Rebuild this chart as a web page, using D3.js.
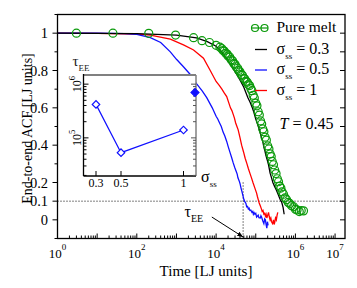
<!DOCTYPE html>
<html>
<head>
<meta charset="utf-8">
<script src="https://cdn.jsdelivr.net/npm/d3@7"></script>
<style>
body { margin: 0; background: #fff; }
svg { display: block; }
</style>
</head>
<body>
<div id="root"></div>
<script>
// pure melt (green circles)
var pureTime = [3, 25, 200, 950, 2700, 4400, 6800, 1.0e4, 1.25e4, 1.4e4,
  1.5e4, 1.6e4, 1.75e4, 1.9e4, 2.0e4, 2.2e4, 2.4e4, 2.6e4, 2.8e4, 3.0e4,
  3.2e4, 3.5e4, 3.7e4, 4.0e4, 4.3e4, 4.6e4, 5.0e4, 5.3e4, 5.7e4, 6.1e4,
  6.5e4, 7.0e4, 7.5e4, 8.0e4, 8.6e4, 9.2e4, 1.0e5, 1.07e5, 1.15e5, 1.23e5,
  1.32e5, 1.41e5, 1.5e5, 1.6e5, 1.72e5, 1.85e5, 2.0e5, 2.15e5, 2.3e5, 2.45e5,
  2.6e5, 2.8e5, 3.0e5, 3.25e5, 3.5e5, 3.75e5, 4.0e5, 4.3e5, 4.6e5, 5.0e5,
  5.5e5, 6.0e5, 6.6e5, 7.2e5, 8.0e5, 9.0e5, 1.0e6, 1.1e6, 1.25e6, 1.4e6, 1.6e6];
var pureAcf = [1.0, 1.0, 0.999, 0.99, 0.976, 0.96, 0.95, 0.935, 0.925, 0.917,
  0.907, 0.904, 0.892, 0.888, 0.878, 0.872, 0.858, 0.852, 0.838, 0.833,
  0.82, 0.812, 0.8, 0.793, 0.779, 0.774, 0.758, 0.755, 0.742, 0.737,
  0.725, 0.719, 0.704, 0.692, 0.667, 0.653, 0.625, 0.611, 0.579, 0.561,
  0.53, 0.514, 0.487, 0.472, 0.443, 0.427, 0.396, 0.38, 0.353, 0.339,
  0.313, 0.295, 0.267, 0.248, 0.22, 0.204, 0.181, 0.17, 0.15, 0.137,
  0.118, 0.108, 0.093, 0.088, 0.076, 0.07, 0.057, 0.053, 0.044, 0.05, 0.048];

// sigma_ss = 0.3 (black)
var s03Time = [1, 100, 1000, 3200, 6000, 1.0e4, 1.3e4, 1.6e4, 2.0e4, 2.5e4,
  3.2e4, 4.0e4, 5.0e4, 6.3e4, 7.2e4, 8.2e4, 9.0e4, 1.0e5, 1.1e5, 1.2e5,
  1.3e5, 1.4e5, 1.5e5, 1.6e5, 1.7e5, 1.8e5, 1.95e5, 2.1e5, 2.3e5, 2.5e5,
  2.7e5, 3.0e5, 3.3e5, 3.7e5, 4.1e5, 4.5e5, 4.9e5, 5.2e5];
var s03Acf = [1.0, 0.998, 0.99, 0.975, 0.955, 0.93, 0.905, 0.88, 0.85, 0.82,
  0.785, 0.75, 0.71, 0.655, 0.63, 0.6, 0.575, 0.54, 0.515, 0.49,
  0.465, 0.44, 0.42, 0.39, 0.37, 0.345, 0.32, 0.295, 0.25, 0.225,
  0.2, 0.178, 0.16, 0.134, 0.11, 0.095, 0.065, 0.03];

// sigma_ss = 0.5 (blue)
var s05Time = [1, 10, 50, 100, 220, 400, 700, 1000, 1500, 2200,
  3200, 4500, 5800, 8000, 1.0e4, 1.1e4, 1.25e4, 1.35e4, 1.5e4, 1.65e4,
  1.85e4, 2.0e4, 2.25e4, 2.45e4, 2.7e4, 2.95e4, 3.2e4, 3.4e4, 3.55e4, 3.8e4,
  4.0e4, 4.25e4, 4.5e4, 4.75e4, 5.0e4, 5.2e4, 5.4e4, 5.65e4, 5.9e4, 6.2e4,
  6.5e4, 6.8e4, 7.1e4, 7.5e4, 8.0e4, 8.4e4, 8.7e4, 9.1e4, 9.5e4, 1.0e5,
  1.05e5, 1.1e5, 1.15e5, 1.2e5, 1.3e5, 1.35e5, 1.4e5, 1.5e5, 1.6e5, 1.68e5,
  1.75e5, 1.82e5, 1.9e5, 1.97e5, 2.05e5];
var s05Acf = [1.0, 1.0, 0.998, 0.994, 0.976, 0.95, 0.9, 0.86, 0.82, 0.78,
  0.73, 0.69, 0.655, 0.6, 0.555, 0.54, 0.515, 0.5, 0.47, 0.45,
  0.42, 0.395, 0.36, 0.335, 0.305, 0.28, 0.26, 0.245, 0.225, 0.21,
  0.195, 0.17, 0.15, 0.13, 0.11, 0.1, 0.095, 0.088, 0.07, 0.072,
  0.058, 0.062, 0.05, 0.052, 0.04, 0.045, 0.03, 0.038, 0.03, 0.035,
  0.015, 0.02, 0.025, 0.012, 0.01, 0.022, 0.015, -0.005, -0.02, 0.005,
  0.0, -0.025, -0.045, -0.01, -0.03];

// sigma_ss = 1 (red)
var s1Time = [1, 10, 100, 220, 700, 1500, 2700, 4800, 7000, 1.0e4,
  1.2e4, 1.4e4, 1.6e4, 1.85e4, 2.1e4, 2.3e4, 2.5e4, 2.7e4, 2.9e4, 3.1e4,
  3.35e4, 3.6e4, 4.0e4, 4.4e4, 4.9e4, 5.4e4, 6.0e4, 6.5e4, 7.1e4, 7.8e4,
  8.5e4, 9.5e4, 1.05e5, 1.1e5, 1.15e5, 1.22e5, 1.3e5, 1.38e5, 1.45e5, 1.52e5,
  1.6e5, 1.68e5, 1.75e5, 1.82e5, 1.9e5, 2.0e5, 2.1e5, 2.2e5, 2.3e5, 2.4e5,
  2.5e5, 2.65e5, 2.8e5, 2.9e5, 3.0e5, 3.15e5, 3.3e5, 3.45e5, 3.6e5];
var s1Acf = [1.0, 0.999, 0.995, 0.99, 0.968, 0.937, 0.91, 0.866, 0.803, 0.741,
  0.72, 0.7, 0.68, 0.66, 0.625, 0.6, 0.585, 0.565, 0.545, 0.52,
  0.5, 0.482, 0.44, 0.4, 0.365, 0.33, 0.3, 0.275, 0.25, 0.225,
  0.2, 0.17, 0.143, 0.125, 0.11, 0.09, 0.075, 0.06, 0.045, 0.05,
  0.03, 0.035, 0.02, 0.03, 0.01, 0.025, 0.04, 0.015, 0.0, 0.01,
  -0.01, -0.02, 0.0, -0.025, -0.015, 0.01, 0.0, 0.025, 0.04];

// inset: relaxation time vs sigma_ss
var sigmaSS = [0.3, 0.5, 1];
var tauEE = [4.2e5, 5.3e4, 1.4e5];
var tauPure = 7.0e5;
var tauMark = 4.8e4;

var xLabelDecades = [0, 2, 4, 6, 7];
var yLabelValues = [0, 0.1, 0.2, 0.4, 0.6, 0.8, 1];

var w = 357, h = 288;
var plot = {left: 57.5, right: 345, top: 14.5, bottom: 238.5};
var ins = {left: 83.5, right: 196, top: 75, bottom: 176};

var svg = d3.select('#root')
  .append('svg')
    .attr('width', w)
    .attr('height', h)
    .style('font-family', "'Liberation Serif'")
    .style('background', '#fff');

var x = d3.scaleLog().domain([1, 1.78e7]).range([plot.left, plot.right]);
var y = d3.scaleLinear().domain([-0.1, 1.1]).range([plot.bottom, plot.top]);

function zip(ts, vs) {
  return ts.map(function (t, i) { return {t: t, v: vs[i]}; });
}

var line = d3.line()
  .x(function (d) { return x(d.t); })
  .y(function (d) { return y(d.v); });

// dotted guides
svg.append('line')
    .attr('x1', plot.left).attr('x2', plot.right)
    .attr('y1', y(0.1)).attr('y2', y(0.1))
    .attr('stroke', '#000').attr('stroke-width', 1)
    .attr('stroke-dasharray', '1,2');
svg.append('line')
    .attr('x1', x(tauMark)).attr('x2', x(tauMark))
    .attr('y1', y(0.2)).attr('y2', y(-0.1))
    .attr('stroke', '#000').attr('stroke-width', 1)
    .attr('stroke-dasharray', '1,2');

// curves
var series = [
  {t: s1Time, v: s1Acf, color: '#ff0000'},
  {t: s05Time, v: s05Acf, color: '#1010ff'},
  {t: s03Time, v: s03Acf, color: '#000000'}
];
series.forEach(function (s) {
  svg.append('path')
      .datum(zip(s.t, s.v))
      .attr('d', line)
      .attr('fill', 'none')
      .attr('stroke', s.color)
      .attr('stroke-width', 1.3);
});

var green = '#0a9a0a';
svg.selectAll('.pure')
    .data(zip(pureTime, pureAcf))
  .enter().append('circle')
    .attr('class', 'pure')
    .attr('cx', function (d) { return x(d.t); })
    .attr('cy', function (d) { return y(d.v); })
    .attr('r', 4)
    .attr('fill', 'none')
    .attr('stroke', green)
    .attr('stroke-width', 1.2);

// frame
svg.append('rect')
    .attr('x', plot.left).attr('y', plot.top)
    .attr('width', plot.right - plot.left)
    .attr('height', plot.bottom - plot.top)
    .attr('fill', 'none')
    .attr('stroke', '#000')
    .attr('stroke-width', 1.3);

// x ticks (inward)
x.ticks().forEach(function (t) {
  var lg = Math.log10(t);
  var major = Math.abs(lg - Math.round(lg)) < 1e-9;
  svg.append('line')
      .attr('x1', x(t)).attr('x2', x(t))
      .attr('y1', plot.bottom).attr('y2', plot.bottom - (major ? 5 : 3))
      .attr('stroke', '#000').attr('stroke-width', 1);
});
xLabelDecades.forEach(function (k) {
  var tx = svg.append('text')
      .attr('x', x(Math.pow(10, k)))
      .attr('y', 257.5)
      .attr('text-anchor', 'middle')
      .attr('font-size', 13)
      .text('10');
  tx.append('tspan')
      .attr('dy', -8)
      .attr('font-size', 9)
      .text(k);
});

// y ticks: left outward, right inward
y.ticks(12).forEach(function (v) {
  var lab = yLabelValues.some(function (u) { return Math.abs(u - v) < 1e-9; });
  svg.append('line')
      .attr('x1', plot.left - (lab ? 5 : 3)).attr('x2', plot.left)
      .attr('y1', y(v)).attr('y2', y(v))
      .attr('stroke', '#000').attr('stroke-width', 1);
  if (v > -0.05 && v < 1.05) {
    svg.append('line')
        .attr('x1', plot.right - 5).attr('x2', plot.right)
        .attr('y1', y(v)).attr('y2', y(v))
        .attr('stroke', '#000').attr('stroke-width', 1);
  }
});
svg.selectAll('.ylab')
    .data(yLabelValues)
  .enter().append('text')
    .attr('class', 'ylab')
    .attr('x', 48)
    .attr('y', function (d) { return y(d) + 5; })
    .attr('text-anchor', 'end')
    .attr('font-size', 14.5)
    .text(function (d) { return d === 0 || d === 1 ? String(d) : d.toFixed(1); });

// axis titles
svg.append('text')
    .attr('transform', 'translate(31.5,' + ((plot.top + plot.bottom) / 2 + 2) + ') rotate(-90)')
    .attr('text-anchor', 'middle')
    .attr('font-size', 14)
    .text('End-to-end ACF [LJ units]');
svg.append('text')
    .attr('x', 206)
    .attr('y', 276)
    .attr('text-anchor', 'middle')
    .attr('font-size', 15)
    .text('Time [LJ units]');

// tau_EE annotation with arrow
svg.append('defs').append('marker')
    .attr('id', 'arrow')
    .attr('viewBox', '0 0 10 10')
    .attr('refX', 10).attr('refY', 5)
    .attr('markerWidth', 6).attr('markerHeight', 6)
    .attr('orient', 'auto')
  .append('path')
    .attr('d', 'M0,1 L10,5 L0,9 Z')
    .attr('fill', '#000');
svg.append('line')
    .attr('x1', x(7.8e3)).attr('y1', y(0.015))
    .attr('x2', x(tauMark)).attr('y2', y(-0.092))
    .attr('stroke', '#000').attr('stroke-width', 1)
    .attr('marker-end', 'url(#arrow)');
var tl = svg.append('text')
    .attr('x', 184.5).attr('y', 217)
    .attr('font-size', 16)
    .text('\u03c4');
tl.append('tspan').attr('dy', 5).attr('font-size', 10).text('EE');

// legend
var legend = svg.append('g');
legend.append('line')
    .attr('x1', 251).attr('x2', 268).attr('y1', 28).attr('y2', 28)
    .attr('stroke', green).attr('stroke-width', 1.2);
[255, 264.5].forEach(function (cx) {
  legend.append('circle')
      .attr('cx', cx).attr('cy', 28).attr('r', 3.5)
      .attr('fill', 'none').attr('stroke', green).attr('stroke-width', 1.2);
});
legend.append('text')
    .attr('x', 276.5).attr('y', 31.5)
    .attr('font-size', 15.5)
    .text('Pure melt');
var legendRows = [
  {label: '0.3', color: '#000000', yy: 49.5},
  {label: '0.5', color: '#1010ff', yy: 70},
  {label: '1', color: '#ff0000', yy: 90.5}
];
legendRows.forEach(function (r) {
  legend.append('line')
      .attr('x1', 255).attr('x2', 267).attr('y1', r.yy).attr('y2', r.yy)
      .attr('stroke', r.color).attr('stroke-width', 1.3);
  var t = legend.append('text')
      .attr('x', 276.5).attr('y', r.yy + 4)
      .attr('font-size', 16)
      .text('\u03c3');
  t.append('tspan').attr('dy', 5).attr('font-size', 9).text('ss');
  t.append('tspan').attr('dy', -5).attr('font-size', 16).text(' = ' + r.label);
});
var tt = legend.append('text')
    .attr('x', 279.5).attr('y', 128.5)
    .attr('font-size', 16);
tt.append('tspan').attr('font-style', 'italic').text('T');
tt.append('tspan').text(' = 0.45');

// inset
var inX = d3.scaleLinear().domain([0.2, 1.1]).range([ins.left, ins.right]);
var inY = d3.scaleLog().domain([1.95e4, 1.48e6]).range([ins.bottom, ins.top]);

var g = svg.append('g');
g.append('rect')
    .attr('x', ins.left).attr('y', ins.top)
    .attr('width', ins.right - ins.left)
    .attr('height', ins.bottom - ins.top)
    .attr('fill', '#fff');
g.append('line')
    .attr('x1', ins.left).attr('x2', ins.right).attr('y1', ins.top).attr('y2', ins.top)
    .attr('stroke', '#808080').attr('stroke-width', 2);
g.append('line')
    .attr('x1', ins.right).attr('x2', ins.right).attr('y1', ins.top).attr('y2', ins.bottom)
    .attr('stroke', '#808080').attr('stroke-width', 1.5);
g.append('line')
    .attr('x1', ins.left).attr('x2', ins.left).attr('y1', ins.top - 1).attr('y2', ins.bottom)
    .attr('stroke', '#000').attr('stroke-width', 1.3);
g.append('line')
    .attr('x1', ins.left).attr('x2', ins.right).attr('y1', ins.bottom).attr('y2', ins.bottom)
    .attr('stroke', '#000').attr('stroke-width', 1.3);

inY.ticks().forEach(function (t) {
  var lg = Math.log10(t);
  var len = Math.abs(lg - Math.round(lg)) < 1e-9 ? 5 : 3;
  g.append('line')
      .attr('x1', ins.left).attr('x2', ins.left + len)
      .attr('y1', inY(t)).attr('y2', inY(t))
      .attr('stroke', '#000').attr('stroke-width', 1);
  g.append('line')
      .attr('x1', ins.right - len).attr('x2', ins.right)
      .attr('y1', inY(t)).attr('y2', inY(t))
      .attr('stroke', '#555').attr('stroke-width', 1);
});
[5, 6].forEach(function (k) {
  var tx = g.append('text')
      .attr('transform', 'translate(81,' + inY(Math.pow(10, k)) + ') rotate(-90)')
      .attr('text-anchor', 'middle')
      .attr('font-size', 12)
      .text('10');
  tx.append('tspan').attr('dy', -6).attr('font-size', 8.5).text(k);
});
sigmaSS.forEach(function (s) {
  g.append('line')
      .attr('x1', inX(s)).attr('x2', inX(s))
      .attr('y1', ins.bottom).attr('y2', ins.bottom - 5)
      .attr('stroke', '#000').attr('stroke-width', 1);
  g.append('text')
      .attr('x', inX(s)).attr('y', 186.5)
      .attr('text-anchor', 'middle')
      .attr('font-size', 12)
      .text(String(s));
});

var inData = sigmaSS.map(function (s, i) { return {s: s, tau: tauEE[i]}; });
g.append('path')
    .datum(inData)
    .attr('d', d3.line()
      .x(function (d) { return inX(d.s); })
      .y(function (d) { return inY(d.tau); }))
    .attr('fill', 'none')
    .attr('stroke', '#1010ff')
    .attr('stroke-width', 1.2);
g.selectAll('.dia')
    .data(inData)
  .enter().append('path')
    .attr('class', 'dia')
    .attr('d', d3.symbol(d3.symbolSquare, 28))
    .attr('transform', function (d) {
      return 'translate(' + inX(d.s) + ',' + inY(d.tau) + ') rotate(45)';
    })
    .attr('fill', '#fff')
    .attr('stroke', '#1010ff')
    .attr('stroke-width', 1.2);
g.append('path')
    .attr('d', d3.symbol(d3.symbolSquare, 34))
    .attr('transform', 'translate(' + (inX(1.1) - 1) + ',' + inY(tauPure) + ') rotate(45)')
    .attr('fill', '#1010ff')
    .attr('stroke', '#1010ff');

var tin = g.append('text')
    .attr('x', 72.5).attr('y', 66)
    .attr('font-size', 15)
    .attr('fill', '#222')
    .text('\u03c4');
tin.append('tspan').attr('dy', 5).attr('font-size', 9).text('EE');
var sin = g.append('text')
    .attr('x', 201).attr('y', 182)
    .attr('font-size', 16)
    .text('\u03c3');
sin.append('tspan').attr('dy', 5).attr('font-size', 9).text('ss');
</script>
</body>
</html>
